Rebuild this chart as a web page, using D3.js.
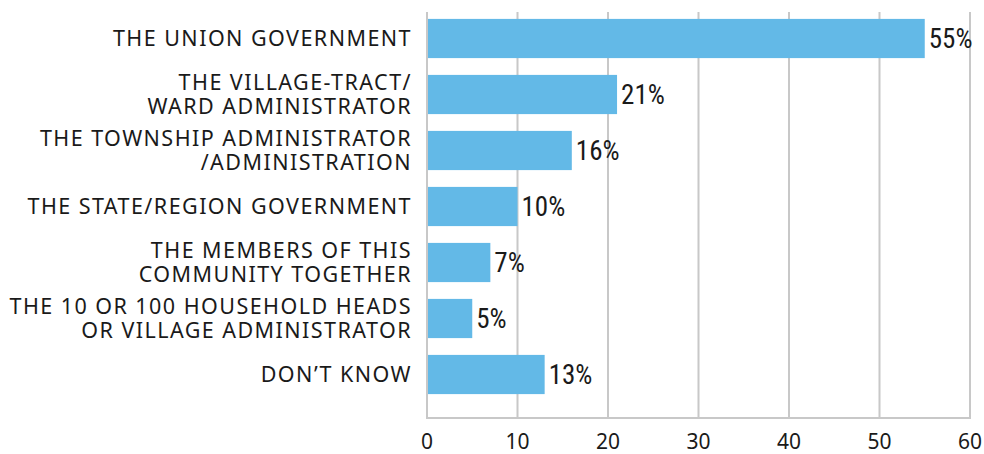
<!DOCTYPE html>
<html><head><meta charset="utf-8">
<script src="https://cdn.jsdelivr.net/npm/d3@7"></script>
<style>body{margin:0;background:#fff}</style>
</head><body><svg id="c" width="984" height="454"></svg>
<script>
const categories = [
  ["THE UNION GOVERNMENT"],
  ["THE VILLAGE-TRACT/", "WARD ADMINISTRATOR"],
  ["THE TOWNSHIP ADMINISTRATOR", "/ADMINISTRATION"],
  ["THE STATE/REGION GOVERNMENT"],
  ["THE MEMBERS OF THIS", "COMMUNITY TOGETHER"],
  ["THE 10 OR 100 HOUSEHOLD HEADS", "OR VILLAGE ADMINISTRATOR"],
  ["DON\u2019T KNOW"]
];
const values = [55, 21, 16, 10, 7, 5, 13];
const ticks = [0, 10, 20, 30, 40, 50, 60];

(function(){
const svg = d3.select("#c");
const pl = 427, pr = 970, pt = 12, pb = 418;
const x = d3.scaleLinear().domain([0, 60]).range([pl, pr]);
const y = d3.scaleBand().domain(d3.range(categories.length)).range([10.5, 402.5]).paddingInner(0.3).paddingOuter(0.15);

const grid = "#c8c8c8";
svg.append("g").selectAll("line").data(ticks).join("line")
  .attr("x1", d => x(d)).attr("x2", d => x(d)).attr("y1", pt).attr("y2", pb)
  .attr("stroke", grid).attr("stroke-width", 2);
svg.append("line").attr("x1", pl - 1).attr("x2", pr + 1).attr("y1", pb).attr("y2", pb)
  .attr("stroke", grid).attr("stroke-width", 2);

svg.append("g").selectAll("rect").data(values).join("rect")
  .attr("x", x(0) + 1).attr("y", (d, i) => y(i))
  .attr("width", d => x(d) - x(0) - 1).attr("height", y.bandwidth())
  .attr("fill", "#63b9e7");

svg.append("g").selectAll("text").data(values).join("text")
  .attr("x", d => x(d) + 4).attr("y", (d, i) => y(i) + y.bandwidth() / 2)
  .attr("dy", "0.36em")
  .attr("font-family", "'Liberation Sans Narrow', 'Roboto Condensed', sans-serif")
  .attr("font-size", 27).attr("fill", "#1a1a1a")
  .text(d => d + "%");

const lab = svg.append("g").selectAll("text").data(categories).join("text")
  .attr("text-anchor", "end")
  .attr("font-family", "'Noto Sans', sans-serif")
  .attr("font-size", 21.5).attr("fill", "#1a1a1a")
  .attr("letter-spacing", 1.45)
  .attr("transform", (d, i) => `translate(412,${y(i) + y.bandwidth() / 2})`);
lab.each(function(d) {
  const t = d3.select(this);
  const n = d.length, lh = 24;
  d.forEach((s, k) => {
    t.append("tspan").attr("x", 0).attr("y", (k - (n - 1) / 2) * lh).attr("dy", "0.36em").text(s);
  });
});

svg.append("g").selectAll("text").data(ticks).join("text")
  .attr("x", d => x(d)).attr("y", 441).attr("dy", "0.36em")
  .attr("text-anchor", "middle")
  .attr("font-family", "'Noto Sans', sans-serif")
  .attr("font-size", 21).attr("fill", "#1a1a1a")
  .text(d => d);
})();
</script></body></html>
